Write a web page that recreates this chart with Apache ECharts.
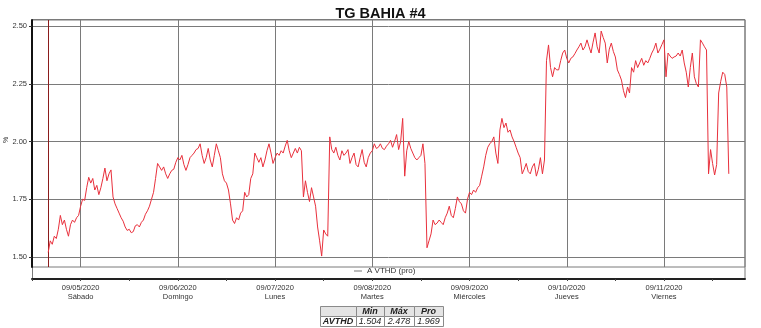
<!DOCTYPE html>
<html><head><meta charset="utf-8">
<script src="https://cdn.jsdelivr.net/npm/echarts@6/dist/echarts.min.js"></script>
<style>html,body{margin:0;padding:0;background:#fff}#c{width:761px;height:328px}</style>
</head><body><div id="c"></div>
<script>
const chartTitle = 'TG BAHIA #4';
const seriesName = 'A VTHD (pro)';
const yAxisName = '%';
// time categories: every 30 min starting 09/04/2020 12:00
const startDay = 4, startHour = 12, stepMinutes = 30, categoryCount = 353;
const dataStartIndex = 8;      // 09/04 16:00
const markerIndex = 8;         // red cursor line
const avthd = [
1.52,1.57,1.555,1.59,1.58,1.62,1.68,1.64,1.66,1.62,
1.59,1.64,1.66,1.65,1.67,1.68,1.72,1.75,1.745,1.80,
1.845,1.82,1.84,1.79,1.81,1.77,1.80,1.84,1.885,1.83,
1.86,1.877,1.76,1.73,1.71,1.69,1.67,1.655,1.63,1.615,
1.62,1.605,1.61,1.635,1.64,1.63,1.65,1.66,1.685,1.70,
1.72,1.75,1.78,1.84,1.905,1.89,1.875,1.89,1.86,1.84,
1.86,1.875,1.88,1.91,1.93,1.92,1.94,1.90,1.875,1.90,
1.93,1.94,1.95,1.965,1.97,1.99,1.94,1.905,1.93,1.97,
1.92,1.89,1.94,1.99,1.96,1.93,1.86,1.83,1.82,1.79,
1.73,1.66,1.645,1.67,1.66,1.69,1.70,1.78,1.76,1.77,
1.84,1.86,1.95,1.93,1.91,1.93,1.89,1.92,1.96,1.99,
1.95,1.905,1.93,1.95,1.94,1.96,1.95,1.98,2.005,1.96,
1.93,1.95,1.97,1.95,1.975,1.96,1.76,1.83,1.78,1.74,
1.80,1.76,1.72,1.63,1.57,1.504,1.617,1.60,1.59,2.02,
1.965,1.95,1.975,1.94,1.92,1.96,1.94,1.95,1.965,1.905,
1.93,1.95,1.90,1.89,1.93,1.965,1.91,1.89,1.93,1.95,
1.96,1.99,1.97,1.975,1.99,1.97,1.965,1.98,1.99,2.005,
1.975,2.00,2.03,1.965,2.00,2.10,1.85,1.96,2.00,1.97,
1.95,1.93,1.92,1.93,1.94,1.99,1.905,1.54,1.57,1.60,
1.66,1.64,1.647,1.66,1.65,1.64,1.67,1.69,1.72,1.68,
1.67,1.71,1.76,1.74,1.73,1.70,1.69,1.75,1.78,1.77,
1.79,1.78,1.80,1.81,1.85,1.89,1.94,1.975,1.99,2.00,
2.02,1.95,1.905,2.05,2.10,2.06,2.08,2.04,2.05,2.02,
2.00,1.975,1.95,1.93,1.86,1.88,1.905,1.87,1.86,1.89,
1.905,1.85,1.88,1.93,1.86,1.92,2.35,2.418,2.32,2.28,
2.32,2.31,2.31,2.35,2.383,2.396,2.36,2.34,2.36,2.366,
2.38,2.396,2.41,2.426,2.396,2.41,2.44,2.41,2.383,2.43,
2.47,2.41,2.383,2.478,2.45,2.426,2.34,2.40,2.426,2.39,
2.366,2.31,2.29,2.266,2.22,2.19,2.236,2.21,2.32,2.30,
2.35,2.32,2.34,2.36,2.33,2.35,2.34,2.36,2.383,2.40,
2.426,2.383,2.40,2.42,2.44,2.28,2.383,2.37,2.36,2.366,
2.37,2.383,2.37,2.396,2.34,2.30,2.236,2.32,2.383,2.28,
2.25,2.236,2.44,2.426,2.41,2.396,1.86,1.965,1.905,1.855,
1.90,2.21,2.26,2.30,2.29,2.236,1.86
];
const dateLabels = ['09/05/2020','09/06/2020','09/07/2020','09/08/2020','09/09/2020','09/10/2020','09/11/2020'];
const dayLabels = ['Sábado','Domingo','Lunes','Martes','Miércoles','Jueves','Viernes'];
const yMin = 1.50, yMax = 2.50, yStep = 0.25;
const statHeaders = ['Min','Máx','Pro'];
const statRowName = 'AVTHD';
const statValues = ['1.504','2.478','1.969'];

const pad = n => (n < 10 ? '0' : '') + n;
const categories = [];
for (let k = 0; k < categoryCount; k++) {
  const mins = startHour * 60 + k * stepMinutes;
  const d = startDay + Math.floor(mins / 1440);
  const hh = Math.floor((mins % 1440) / 60), mm = mins % 60;
  categories.push('09/' + pad(d) + '/2020 ' + pad(hh) + ':' + pad(mm));
}
const seriesData = [];
for (let k = 0; k < categoryCount; k++) {
  const j = k - dataStartIndex;
  seriesData.push(j >= 0 && j < avthd.length ? avthd[j] : null);
}
const isMidnight = i => i % 48 === 24;
const FONT = '"Liberation Sans", Arial, sans-serif';

// stats table graphic
const colX = [320, 356, 384, 414, 443], rowY = [306, 316, 326];
const tbl = [];
for (let r = 0; r < 2; r++) for (let c = 0; c < 4; c++) {
  tbl.push({type:'rect', shape:{x:colX[c]+0.5, y:rowY[r]+0.5, width:colX[c+1]-colX[c], height:rowY[r+1]-rowY[r]},
    style:{fill: r === 0 ? '#e4e4e4' : '#ffffff', stroke:'#8a8a8a', lineWidth:1}});
}
const cellText = (txt, r, c, bold) => ({type:'text', x:(colX[c]+colX[c+1])/2, y:(rowY[r]+rowY[r+1])/2+0.5,
  style:{text:txt, fill:'#222', font:(bold?'italic bold ':'italic ')+'9px '+FONT, textAlign:'center', textVerticalAlign:'middle'}});
statHeaders.forEach((h, i) => tbl.push(cellText(h, 0, i+1, true)));
tbl.push(cellText(statRowName, 1, 0, true));
statValues.forEach((v, i) => tbl.push(cellText(v, 1, i+1, false)));

const chart = echarts.init(document.getElementById('c'));
chart.setOption({
  animation: false,
  backgroundColor: '#fff',
  textStyle: {fontFamily: FONT},
  title: {text: chartTitle, left: 'center', top: 1, textStyle: {fontSize: 14.5, fontWeight: 'bold', color: '#111', fontFamily: FONT}},
  legend: {data: [seriesName], left: 354, top: 267, padding: 0, icon: 'rect', itemWidth: 8, itemHeight: 1,
    itemStyle: {color: '#777'}, textStyle: {fontSize: 8, color: '#333', fontFamily: FONT}},
  grid: [
    {left: 32, top: 26, width: 713, height: 231, outerBoundsMode: 'none', containLabel: false},
    {left: 32, top: 20, width: 713, height: 247, outerBoundsMode: 'none', containLabel: false,
      show: true, borderColor: '#7a7a7a', borderWidth: 1, backgroundColor: 'transparent'}
  ],
  xAxis: [
    {type: 'category', gridIndex: 0, data: categories, boundaryGap: false, offset: 22,
      axisLine: {show: true, lineStyle: {color: '#222', width: 2}},
      axisTick: {show: true, interval: i => i % 24 === 0, length: 2, lineStyle: {color: '#444'}},
      axisLabel: {interval: isMidnight, fontSize: 7.5, color: '#333', lineHeight: 8.5, margin: 5, fontFamily: FONT,
        formatter: (v, i) => { const d = (i - 24) / 48; return dateLabels[d] + '\n' + dayLabels[d]; }},
      splitLine: {show: false}},
    {type: 'category', gridIndex: 1, data: categories, boundaryGap: false,
      axisLine: {show: false}, axisTick: {show: false}, axisLabel: {show: false},
      splitLine: {show: true, interval: isMidnight, lineStyle: {color: '#7a7a7a', width: 1}}}
  ],
  yAxis: [
    {type: 'value', gridIndex: 0, min: yMin, max: yMax, interval: yStep,
      axisLine: {show: false},
      axisTick: {show: true, length: 3, lineStyle: {color: '#333'}},
      axisLabel: {fontSize: 7.5, color: '#333', margin: 5, formatter: v => v.toFixed(2), fontFamily: FONT},
      splitLine: {show: true, lineStyle: {color: '#7a7a7a', width: 1}}},
    {type: 'value', gridIndex: 1, min: 0, max: 1,
      axisLine: {show: true, lineStyle: {color: '#111', width: 2}},
      axisTick: {show: false}, axisLabel: {show: false}, splitLine: {show: false}}
  ],
  graphic: [
    {type: 'rect', shape: {x: 32.5, y: 19.5, width: 712.5, height: 259}, style: {fill: 'none', stroke: '#7a7a7a', lineWidth: 1}, z: 0, silent: true},
    {type: 'text', x: 6, y: 140, rotation: Math.PI / 2,
      style: {text: yAxisName, fill: '#333', font: '7px ' + FONT, textAlign: 'center', textVerticalAlign: 'middle'}},
    {type: 'group', children: tbl}
  ],
  series: [
    {name: seriesName, type: 'line', xAxisIndex: 0, yAxisIndex: 0, data: seriesData,
      symbol: 'none', connectNulls: false, lineStyle: {color: '#e8303c', width: 1}, itemStyle: {color: '#e8303c'}, z: 5},
    {name: 'cursor', type: 'line', xAxisIndex: 1, yAxisIndex: 1, data: [], symbol: 'none',
      markLine: {silent: true, symbol: 'none', label: {show: false}, animation: false,
        lineStyle: {color: '#8b1c1c', width: 1, type: 'solid'},
        data: [{xAxis: categories[markerIndex]}]}}
  ]
});
</script></body></html>
